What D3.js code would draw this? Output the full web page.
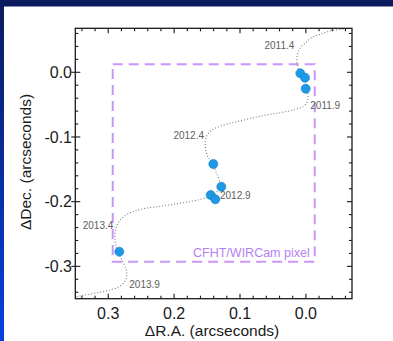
<!DOCTYPE html>
<html>
<head>
<meta charset="utf-8">
<script src="https://cdn.jsdelivr.net/npm/d3@7"></script>
<style>
  html, body { margin: 0; padding: 0; background: #0b1b5e; }
  svg { display: block; }
</style>
</head>
<body>
<svg id="chart" width="393" height="341"></svg>
<script>
// Measured offsets (arcseconds): R.A. offset and Dec. offset of each epoch
const raOffset  = [0.0085, 0.0013, 0.0003, 0.1405, 0.1284, 0.1445, 0.1375, 0.2832];
const decOffset = [-0.0016, -0.0084, -0.0254, -0.1418, -0.1769, -0.1897, -0.1963, -0.2773];

// Parallax + proper-motion model track (arcseconds)
const trackRA  = [-0.0746, -0.0594, -0.0366, -0.0214, -0.0088, 0.0013, 0.0089, 0.0130, 0.0135, 0.0112,
                  0.0074, 0.0021, -0.0009, -0.0032, -0.0024, 0.0029, 0.0191, 0.0393, 0.0646, 0.0898,
                  0.1152, 0.1379, 0.1478, 0.1524, 0.1524, 0.1493, 0.1433, 0.1364, 0.1304, 0.1319,
                  0.1410, 0.1607, 0.1911, 0.2214, 0.2518, 0.2715, 0.2837, 0.2890, 0.2897, 0.2875,
                  0.2822, 0.2761, 0.2723, 0.2730, 0.2806, 0.3004, 0.3231, 0.3429, 0.3580];
const trackDec = [0.0692, 0.0669, 0.0638, 0.0587, 0.0535, 0.0448, 0.0371, 0.0267, 0.0144, 0.0051,
                  -0.0026, -0.0104, -0.0212, -0.0351, -0.0444, -0.0521, -0.0583, -0.0625, -0.0668, -0.0727,
                  -0.0789, -0.0866, -0.0939, -0.1047, -0.1170, -0.1294, -0.1387, -0.1541, -0.1711, -0.1804,
                  -0.1897, -0.1966, -0.2025, -0.2072, -0.2121, -0.2198, -0.2306, -0.2438, -0.2593, -0.2716,
                  -0.2840, -0.2963, -0.3072, -0.3195, -0.3296, -0.3373, -0.3420, -0.3458, -0.3489];

// Epoch annotations along the track
const epochLabels = ["2011.4", "2011.9", "2012.4", "2012.9", "2013.4", "2013.9"];
const epochRA     = [0.0176, -0.0067, 0.1546, 0.1304, 0.2923, 0.2680];
const epochDec    = [0.0411, -0.0510, -0.0980, -0.1897, -0.2361, -0.3277];
const epochAnchor = ["end", "start", "end", "start", "end", "start"];

// One WIRCam pixel outline (arcseconds)
const pixelRA  = [0.2932, -0.0134];
const pixelDec = [0.0124, -0.2928];

// Axis ticks
const xMajor = [0.3, 0.2, 0.1, 0.0];
const yMajor = [0.0, -0.1, -0.2, -0.3];
const xMinor = d3.range(17, -4, -1).map(i => i * 0.02);
const yMinor = d3.range(3, -18, -1).map(i => i * 0.02);

const svg = d3.select("#chart");

// slide backdrop: navy top band, blue gradient left edge, white page
const defs = svg.append("defs");
const grad = defs.append("linearGradient").attr("id", "edge").attr("x1", 0).attr("y1", 0).attr("x2", 0).attr("y2", 1);
grad.append("stop").attr("offset", "0%").attr("stop-color", "#0b1b5e");
grad.append("stop").attr("offset", "100%").attr("stop-color", "#0641e0");
svg.append("rect").attr("x", 0).attr("y", 0).attr("width", 393).attr("height", 341).attr("fill", "#0b1b5e");
svg.append("rect").attr("x", 0).attr("y", 0).attr("width", 4).attr("height", 341).attr("fill", "url(#edge)");
svg.append("rect").attr("x", 4).attr("y", 6.5).attr("width", 389).attr("height", 334.5).attr("fill", "#ffffff");

const plotL = 75.3, plotR = 352, plotT = 28.3, plotB = 298.7;
const x = d3.scaleLinear().domain([0.35, -0.07]).range([plotL, plotR]);
const y = d3.scaleLinear().domain([-0.35, 0.068]).range([plotB, plotT]);

defs.append("clipPath").attr("id", "plotclip")
  .append("rect").attr("x", plotL).attr("y", plotT).attr("width", plotR - plotL).attr("height", plotB - plotT);

// pixel box
svg.append("rect")
  .attr("x", x(pixelRA[0])).attr("y", y(pixelDec[0]))
  .attr("width", x(pixelRA[1]) - x(pixelRA[0]))
  .attr("height", y(pixelDec[1]) - y(pixelDec[0]))
  .attr("fill", "none").attr("stroke", "#c897f8").attr("stroke-width", 2)
  .attr("stroke-dasharray", "10,6");
svg.append("text")
  .attr("x", x(pixelRA[1]) - 5).attr("y", y(pixelDec[1]) - 5)
  .attr("text-anchor", "end")
  .attr("font-family", "Liberation Sans, Arial, sans-serif").attr("font-size", 12.5)
  .attr("fill", "#b57ff3")
  .text("CFHT/WIRCam pixel");

// model track
const track = trackRA.map((v, i) => [v, trackDec[i]]);
svg.append("path")
  .datum(track)
  .attr("clip-path", "url(#plotclip)")
  .attr("d", d3.line().x(d => x(d[0])).y(d => y(d[1])).curve(d3.curveCatmullRom.alpha(0.5)))
  .attr("fill", "none").attr("stroke", "#7a7a7a").attr("stroke-width", 1.1)
  .attr("stroke-dasharray", "1,2");

// epoch labels
svg.append("g").selectAll("text").data(epochLabels).join("text")
  .attr("x", (d, i) => x(epochRA[i]))
  .attr("y", (d, i) => y(epochDec[i]))
  .attr("dy", "0.35em")
  .attr("text-anchor", (d, i) => epochAnchor[i])
  .attr("font-family", "Liberation Sans, Arial, sans-serif").attr("font-size", 10)
  .attr("fill", "#5e5e5e")
  .text(d => d);

// measured positions
svg.append("g").selectAll("circle").data(raOffset).join("circle")
  .attr("cx", d => x(d))
  .attr("cy", (d, i) => y(decOffset[i]))
  .attr("r", 4.5)
  .attr("fill", "#1c9ae6").attr("stroke", "#1478c4").attr("stroke-width", 0.6);

// frame
svg.append("rect").attr("x", plotL).attr("y", plotT).attr("width", plotR - plotL).attr("height", plotB - plotT)
  .attr("fill", "none").attr("stroke", "#1a1a1a").attr("stroke-width", 1.3);

// ticks on all four sides, pointing inward
const tickG = svg.append("g").attr("stroke", "#1a1a1a").attr("stroke-width", 1.1);
const isMajor = (v, arr) => arr.some(m => Math.abs(m - v) < 1e-9);
xMinor.forEach(v => {
  const len = isMajor(v, xMajor) ? 5 : 3;
  tickG.append("line").attr("x1", x(v)).attr("x2", x(v)).attr("y1", plotB).attr("y2", plotB - len);
  tickG.append("line").attr("x1", x(v)).attr("x2", x(v)).attr("y1", plotT).attr("y2", plotT + len);
});
yMinor.forEach(v => {
  const maj = isMajor(v, yMajor);
  const len = maj ? 5 : 3;
  tickG.append("line").attr("y1", y(v)).attr("y2", y(v)).attr("x1", plotL - (maj ? 4 : 0)).attr("x2", plotL + len);
  tickG.append("line").attr("y1", y(v)).attr("y2", y(v)).attr("x1", plotR).attr("x2", plotR - len);
});

// tick labels (plain hyphen for negatives)
const fmt = d3.formatLocale({ decimal: ".", thousands: ",", grouping: [3], currency: ["", ""], minus: "-" }).format(".1f");
const label = d => fmt(Math.abs(d) < 1e-9 ? 0 : d);
svg.append("g").selectAll("text").data(xMajor).join("text")
  .attr("x", d => x(d)).attr("y", 319.3)
  .attr("text-anchor", "middle")
  .attr("font-family", "Liberation Sans, Arial, sans-serif").attr("font-size", 16)
  .attr("fill", "#1a1a1a")
  .text(label);
svg.append("g").selectAll("text").data(yMajor).join("text")
  .attr("x", 72).attr("y", d => y(d)).attr("dy", "0.36em")
  .attr("text-anchor", "end")
  .attr("font-family", "Liberation Sans, Arial, sans-serif").attr("font-size", 16)
  .attr("fill", "#1a1a1a")
  .text(label);

// axis titles
svg.append("text")
  .attr("x", 212).attr("y", 335.5).attr("text-anchor", "middle")
  .attr("font-family", "Liberation Sans, Arial, sans-serif").attr("font-size", 15.5)
  .attr("fill", "#1a1a1a")
  .text("ΔR.A. (arcseconds)");
svg.append("text")
  .attr("transform", "translate(31,162) rotate(-90)").attr("text-anchor", "middle")
  .attr("font-family", "Liberation Sans, Arial, sans-serif").attr("font-size", 15.5)
  .attr("fill", "#1a1a1a")
  .text("ΔDec. (arcseconds)");
</script>
</body>
</html>
